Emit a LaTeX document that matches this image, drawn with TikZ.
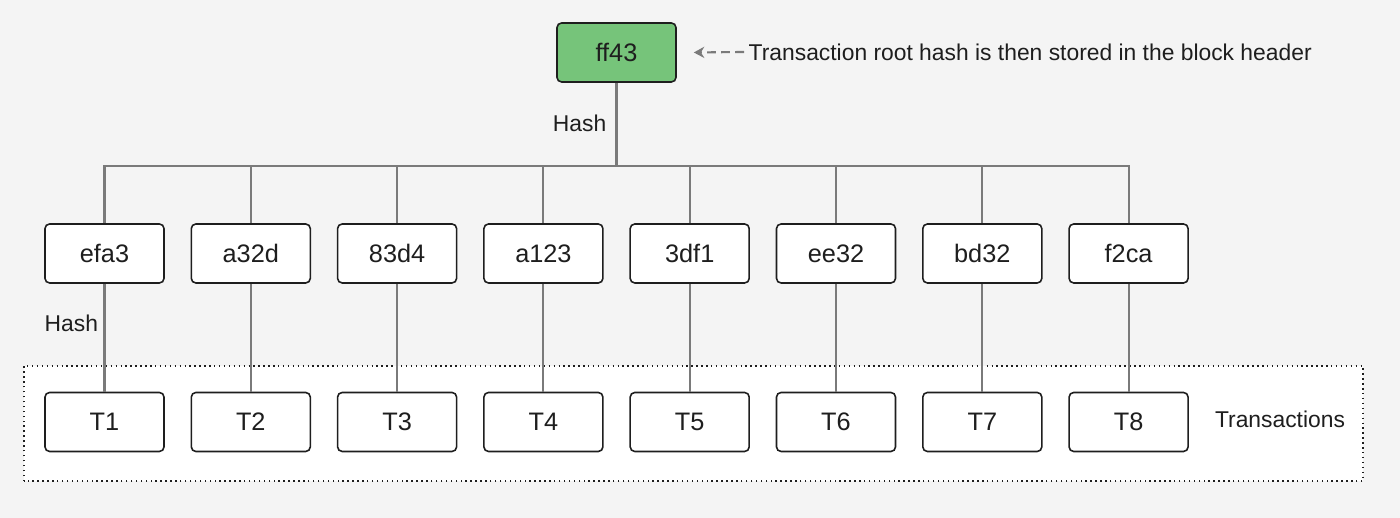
\documentclass[tikz,border=0pt]{standalone}
\usepackage{fontspec}
\setmainfont{Liberation Sans}
\usetikzlibrary{arrows.meta}
\definecolor{PageGray}{HTML}{F4F4F4}
\definecolor{RootGreen}{HTML}{76C47A}
\definecolor{EdgeGray}{HTML}{7A7A7A}
\definecolor{InkDark}{HTML}{1E1E1E}
\tikzstyle{hashbox} = [rectangle, rounded corners=1.3pt, minimum width=1.19cm, minimum height=0.59cm, text centered, draw=InkDark, fill=white, line width=0.45pt, font=\fontsize{7.2}{8}\selectfont, text=InkDark]
\tikzstyle{rootbox} = [hashbox, fill=RootGreen]
\tikzstyle{link} = [EdgeGray, line width=0.6pt]
\tikzstyle{note} = [font=\fontsize{6.5}{8}\selectfont, text=InkDark, inner sep=0pt]

\begin{document}
\begin{tikzpicture}

% Background
\fill[PageGray] (0,0) rectangle (14,5.18);
\useasboundingbox (0,0) rectangle (14,5.18);

% Transactions block
\draw[fill=white, densely dotted, line width=0.4pt, draw=InkDark] (0.24,0.37) rectangle (13.63,1.52);

% Root
\node (root) [rootbox] at (6.165,4.655) {ff43};
\coordinate (bus) at (6.165,3.52);

% Hash row and transaction row
\foreach \i/\lbl [evaluate=\i as \x using {1.045+(\i-1)*1.463}] in {1/efa3,2/a32d,3/83d4,4/a123,5/3df1,6/ee32,7/bd32,8/f2ca} {
  \node (h\i) [hashbox] at (\x,2.645) {\lbl};
  \node (t\i) [hashbox] at (\x,0.96) {T\i};
}

% Links
\draw [link] (root) -- (bus);
\foreach \i in {1,...,8} {
  \draw [link] (bus) -| (h\i);
  \draw [link] (h\i) -- (t\i);
}

% Labels
\node (hashtop) [note, anchor=east] at (6.07,3.95) {Hash};
\node (hashleft) [note, anchor=west] at (0.44,1.95) {Hash};
\node (txlabel) [note] at (12.8,0.99) {Transactions};
\node (headnote) [note, anchor=west] at (7.48,4.66) {Transaction root hash is then stored in the block header};
\coordinate (notestart) at ([xshift=-0.04cm]headnote.west);
\coordinate (noteend) at ([xshift=0.17cm]root.east);
\draw [EdgeGray, dash pattern=on 2.5pt off 1.5pt, line width=0.6pt, -{Stealth[length=3pt,width=3.2pt]}] (notestart) -- (noteend);

\end{tikzpicture}
\end{document}
